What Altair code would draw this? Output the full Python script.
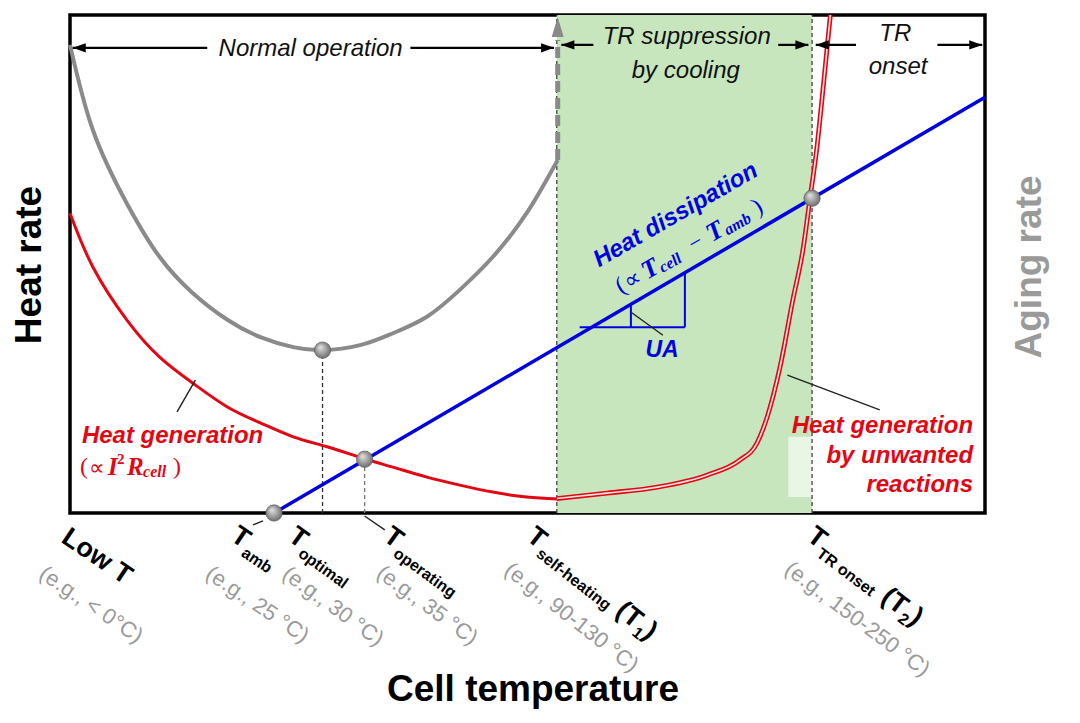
import altair as alt
import pandas as pd

# ---------------- data (x: cell temperature, y: rate; arbitrary units 0-100) ----------------
# Aging rate (gray U-shaped curve)
aging_x = [0.0, 2.5, 6.2, 9.8, 13.4, 17.2, 20.8, 24.4, 27.6, 31.7, 35.3, 39.0, 42.6, 46.2, 49.9, 53.3]
aging_y = [94.0, 76.9, 62.2, 51.4, 44.2, 38.8, 35.3, 33.3, 32.7, 33.7, 36.1, 39.4, 44.8, 51.4, 60.2, 70.9]
# Joule heat generation (red, decreasing)
joule_x = [0.0, 2.5, 6.2, 9.8, 13.4, 17.2, 20.8, 24.4, 28.1, 32.0, 35.3, 39.0, 42.6, 46.2, 49.9, 53.3]
joule_y = [60.2, 49.4, 38.8, 31.3, 26.1, 21.3, 18.1, 15.3, 13.3, 11.0, 9.2, 7.2, 5.6, 4.2, 3.2, 2.8]
# Heat generation by unwanted reactions (red double line)
side_x = [53.2, 58.7, 64.2, 69.6, 73.2, 75.1, 76.2, 77.6, 79.0, 80.1, 80.9, 81.6, 82.4, 83.1]
side_y = [2.9, 4.0, 5.2, 7.6, 10.6, 14.1, 19.3, 29.3, 42.8, 52.8, 63.5, 72.9, 87.0, 100.0]
# Heat dissipation (blue straight line)
diss_x = [22.3, 100.0]
diss_y = [0.0, 83.5]
# Marked points: T_amb, T_optimal, T_operating, T_TR onset
dot_x = [22.3, 27.6, 32.2, 81.1]
dot_y = [0.0, 32.7, 10.8, 63.2]
# Shaded "TR suppression" band
band_x = [53.2, 81.1]
# Vertical guide lines
guide_x = [27.6, 32.2, 53.2, 81.1]
guide_top = [32.7, 10.8, 100.0, 100.0]
guide_col = ["#333333", "#777777", "#444444", "#444444"]

# Region arrows along the top
arr_x1 = [0.3, 37.2, 53.7, 77.4, 81.5, 94.8]
arr_x2 = [15.0, 52.9, 57.2, 80.7, 85.9, 99.7]
arr_y = [93.4, 93.4, 94.0, 94.0, 94.0, 94.0]
top_text = ["Normal operation", "TR suppression", "by cooling", "TR", "onset"]
top_tx = [26.3, 67.4, 67.3, 90.2, 90.5]
top_ty = [93.2, 95.6, 88.8, 96.2, 89.6]

# Temperature labels under the axis
tick_main = ["Low T", "T", "T", "T", "T", "T"]
tick_sub = ["", "amb", "optimal", "operating", "self-heating", "TR onset"]
tick_x = [-0.6, 17.9, 24.2, 34.6, 50.3, 80.9]
tick_y = [-4.4, -4.0, -4.0, -4.0, -4.0, -4.0]
tick_angle = [34, 34, 36, 36, 38, 37]
tick_example = ["(e.g., < 0°C)", "(e.g., 25 °C)", "(e.g., 30 °C)", "(e.g., 35 °C)",
                "(e.g., 90-130 °C)", "(e.g., 150-250 °C)"]
ex_x = [-3.1, 15.1, 23.5, 33.8, 47.8, 78.4]
ex_y = [-11.7, -11.7, -11.7, -11.5, -10.9, -10.7]

# Leader lines
lead_x1 = [13.7, 78.4, 61.4, 21.1, 32.2]
lead_y1 = [26.7, 27.7, 40.2, -1.6, -0.6]
lead_x2 = [11.7, 88.5, 64.8, 20.0, 34.4]
lead_y2 = [20.3, 20.7, 35.7, -2.4, -3.4]

# UA slope triangle
ua_x1 = [55.7, 67.2, 61.3]
ua_x2 = [67.2, 67.2, 61.3]
ua_y1 = [37.3, 37.3, 37.3]
ua_y2 = [37.3, 48.3, 41.9]

# ---------------- helpers ----------------
XS = alt.Scale(domain=[0, 100], nice=False, zero=False)
YS = alt.Scale(domain=[0, 100], nice=False, zero=False)
X = alt.X("x:Q", scale=XS, axis=None)
Y = alt.Y("y:Q", scale=YS, axis=None)

SANS = "Liberation Sans"
SERIF = "Liberation Serif"
RED = "#e30613"
BLUE = "#0000e0"
GRAY = "#8a8a8a"


def line(xs, ys, **mark):
    df = pd.DataFrame({"x": xs, "y": ys, "i": list(range(len(xs)))})
    return alt.Chart(df).mark_line(**mark).encode(x=X, y=Y, order="i:Q")


def segs(x1, y1, x2, y2, **mark):
    df = pd.DataFrame({"x": x1, "y": y1, "x2": x2, "y2": y2})
    return alt.Chart(df).mark_rule(**mark).encode(x=X, y=Y, x2="x2:Q", y2="y2:Q")


def text(xs, ys, ts, **mark):
    df = pd.DataFrame({"x": xs, "y": ys, "t": ts})
    return alt.Chart(df).mark_text(**mark).encode(x=X, y=Y, text="t:N")


layers = []

# green band
band = pd.DataFrame({"x": [band_x[0]], "x2": [band_x[1]], "y": [0], "y2": [100]})
layers.append(alt.Chart(band).mark_rect(color="#c7e6bd").encode(x=X, x2="x2:Q", y=Y, y2="y2:Q"))
# translucent label backing
wb = pd.DataFrame({"x": [78.5], "x2": [81.1], "y": [3.2], "y2": [15.3]})
layers.append(alt.Chart(wb).mark_rect(color="white", opacity=0.6).encode(x=X, x2="x2:Q", y=Y, y2="y2:Q"))

# vertical guides
gdf = pd.DataFrame({"x": guide_x, "y": [0] * 4, "y2": guide_top, "c": guide_col})
layers.append(alt.Chart(gdf).mark_rule(strokeDash=[4, 3], strokeWidth=1.3).encode(
    x=X, y=Y, y2="y2:Q", color=alt.Color("c:N", scale=None)))

# aging curve and dashed arrow upward
layers.append(line(aging_x, aging_y, color=GRAY, strokeWidth=4, interpolate="natural"))
layers.append(segs([53.3], [70.9], [53.3], [95.0], color=GRAY, strokeWidth=5, strokeDash=[11, 6]))
ah = pd.DataFrame({"x": [53.3], "y": [99.6]})
layers.append(alt.Chart(ah).mark_point(shape="M 0 0 L -0.6 2 L 0.6 2 Z", size=400, filled=True,
                                       color=GRAY, opacity=1).encode(x=X, y=Y))

# heat generation curves
layers.append(line(joule_x, joule_y, color=RED, strokeWidth=3, interpolate="natural"))
layers.append(line(side_x, side_y, color=RED, strokeWidth=4.8, interpolate="monotone"))
layers.append(line(side_x, side_y, color="#ffe4e4", strokeWidth=1.6, interpolate="monotone"))

# heat dissipation
layers.append(line(diss_x, diss_y, color=BLUE, strokeWidth=3.5))
layers.append(segs(ua_x1, ua_y1, ua_x2, ua_y2, color=BLUE, strokeWidth=2))

# leader lines
layers.append(segs(lead_x1, lead_y1, lead_x2, lead_y2, color="#222222", strokeWidth=1.4))

# top arrows
layers.append(segs(arr_x1, arr_y, arr_x2, arr_y, color="black", strokeWidth=2.2))
left_heads = pd.DataFrame({"x": [arr_x1[0], arr_x1[2], arr_x1[4]], "y": [arr_y[0], arr_y[2], arr_y[4]]})
right_heads = pd.DataFrame({"x": [arr_x2[1], arr_x2[3], arr_x2[5]], "y": [arr_y[1], arr_y[3], arr_y[5]]})
layers.append(alt.Chart(left_heads).mark_point(shape="M 0 0 L 2 -0.7 L 2 0.7 Z", size=169, filled=True,
                                               color="black", opacity=1).encode(x=X, y=Y))
layers.append(alt.Chart(right_heads).mark_point(shape="M 0 0 L -2 -0.7 L -2 0.7 Z", size=169, filled=True,
                                                color="black", opacity=1).encode(x=X, y=Y))
layers.append(text(top_tx, top_ty, top_text, font=SANS, fontSize=24, fontStyle="italic",
                   color="#111111", align="center", baseline="middle"))

# dots (shaded spheres)
sphere = alt.RadialGradient(
    gradient="radial",
    stops=[alt.GradientStop(color="#e6e6e6", offset=0), alt.GradientStop(color="#5e5e5e", offset=1)],
    x1=0.35, y1=0.3, r1=0.0, x2=0.5, y2=0.5, r2=0.6)
ddf = pd.DataFrame({"x": dot_x, "y": dot_y})
layers.append(alt.Chart(ddf).mark_point(shape="circle", size=270, filled=True, fill=sphere, opacity=1,
                                        stroke="#555555", strokeWidth=0.6).encode(x=X, y=Y))

# curve labels
layers.append(text([1.3], [15.5], ["Heat generation"], font=SANS, fontSize=24, fontWeight="bold",
                   fontStyle="italic", color=RED, align="left", baseline="middle"))
ig_pieces = [("(", 0, 0, 24, "normal", "normal"), ("∝", 9, 1, 22, "normal", "normal"),
             ("I", 28, 0, 25, "bold", "italic"), ("2", 37, -8, 15, "bold", "normal"),
             ("R", 47, 0, 25, "bold", "italic"), ("cell", 63, 5, 16, "bold", "italic"),
             (")", 93, 0, 24, "normal", "normal")]
for t, dx, dy, fs, fw, fst in ig_pieces:
    layers.append(text([1.1], [9.2], [t], font=SERIF, fontSize=fs, fontWeight=fw, fontStyle=fst,
                       color=RED, align="left", baseline="middle", dx=dx, dy=dy))

layers.append(text([98.7, 98.7, 98.7], [17.5, 11.4, 5.6], ["Heat generation", "by unwanted", "reactions"],
                   font=SANS, fontSize=24, fontWeight="bold", fontStyle="italic", color=RED,
                   align="right", baseline="middle"))

layers.append(text([66.2], [59.8], ["Heat dissipation"], font=SANS, fontSize=24, fontWeight="bold",
                   fontStyle="italic", color=BLUE, align="center", baseline="middle", angle=330))
hd_pieces = [("(", 0, 0, 24, "normal", "normal"), ("∝", 9, 1, 23, "normal", "normal"),
             ("T", 30, 0, 26, "bold", "italic"), ("cell", 47, 5, 16, "bold", "italic"),
             ("−", 84, 0, 23, "normal", "normal"), ("T", 105, 0, 26, "bold", "italic"),
             ("amb", 122, 5, 16, "bold", "italic"), (")", 158, 0, 24, "normal", "normal")]
for t, dx, dy, fs, fw, fst in hd_pieces:
    layers.append(text([59.8], [45.2], [t], font=SERIF, fontSize=fs, fontWeight=fw, fontStyle=fst,
                       color=BLUE, align="left", baseline="middle", angle=330, dx=dx, dy=dy))
layers.append(text([64.7], [32.7], ["UA"], font=SANS, fontSize=23, fontWeight="bold",
                   fontStyle="italic", color=BLUE, align="center", baseline="middle"))

# temperature labels (rotated)
tdf = pd.DataFrame({"x": tick_x, "y": tick_y, "t": tick_main, "s": tick_sub, "a": tick_angle})
layers.append(alt.Chart(tdf).mark_text(font=SANS, fontSize=27, fontWeight="bold", color="black",
                                       align="left", baseline="middle").encode(
    x=X, y=Y, text="t:N", angle=alt.Angle("a:Q", scale=None)))
layers.append(alt.Chart(tdf[tdf.s != ""]).mark_text(font=SANS, fontSize=16, fontWeight="bold", color="black",
                                                    align="left", baseline="middle", dx=18, dy=10).encode(
    x=X, y=Y, text="s:N", angle=alt.Angle("a:Q", scale=None)))
edf = pd.DataFrame({"x": ex_x, "y": ex_y, "t": tick_example, "a": tick_angle})
layers.append(alt.Chart(edf).mark_text(font=SANS, fontSize=22, color="#9a9a9a",
                                       align="left", baseline="middle").encode(
    x=X, y=Y, text="t:N", angle=alt.Angle("a:Q", scale=None)))
# (T1) and (T2)
for i, num, off in [(4, "1", 116), (5, "2", 96)]:
    for t, dx, dy, fs in [("(T", 0, 4, 27), (num, 26, 13, 16), (")", 35, 4, 27)]:
        layers.append(text([tick_x[i]], [tick_y[i]], [t], font=SANS, fontSize=fs, fontWeight="bold",
                           color="black", align="left", baseline="middle", angle=tick_angle[i],
                           dx=off + dx, dy=dy))

# axis titles
layers.append(text([-4.4], [49.8], ["Heat rate"], font=SANS, fontSize=37, fontWeight="bold",
                   color="black", align="center", baseline="middle", angle=270))
layers.append(text([104.9], [49.4], ["Aging rate"], font=SANS, fontSize=37, fontWeight="bold",
                   color="#9a9a9a", align="center", baseline="middle", angle=270))
layers.append(text([50.6], [-35.5], ["Cell temperature"], font=SANS, fontSize=37, fontWeight="bold",
                   color="black", align="center", baseline="middle"))

chart = alt.layer(*layers).properties(
    width=915, height=498,
    padding={"left": 62, "top": 7, "right": 87, "bottom": 202},
    autosize=alt.AutoSizeParams(type="none"),
    background="white",
).configure_view(stroke="black", strokeWidth=3.5)

chart.save("out.html", embed_options={"renderer": "svg", "actions": False})
